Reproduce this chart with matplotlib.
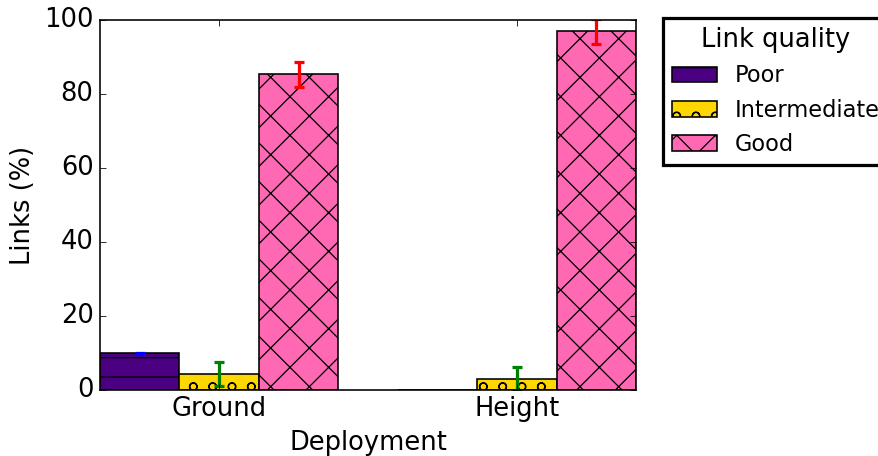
import matplotlib
matplotlib.use('Agg')
import matplotlib.pyplot as plt
import numpy as np

plt.style.use('classic')
plt.rcParams['font.family'] = 'DejaVu Sans'
plt.rcParams['hatch.color'] = 'black'
plt.rcParams['hatch.linewidth'] = 0.8

# data
deployments = ['Ground', 'Height']
qualities = ['Poor', 'Intermediate', 'Good']
poor = [9.9, 0.0]
poor_err = [0.2, 0.0]
intermediate = [4.4, 2.9]
intermediate_err = [3.3, 3.3]
good = [85.3, 96.9]
good_err = [3.4, 3.3]

bar_colors = ['#4B0082', '#FFD700', '#FF69B4']
err_colors = ['blue', 'green', 'red']
hatches = ['-', 'o', 'x']

DPI = 116
fig = plt.figure(figsize=(878 / DPI, 456 / DPI), dpi=DPI, facecolor='white')
ax = fig.add_axes([100 / 878, 1 - 390 / 456, 536 / 878, 370 / 456])

x = np.arange(len(deployments))
width = 0.8 / 3
series = [(poor, poor_err), (intermediate, intermediate_err), (good, good_err)]

for i, (vals, errs) in enumerate(series):
    pos = x + (i - 1) * width
    ax.bar(pos, vals, width, color=bar_colors[i], edgecolor='black',
           hatch=hatches[i], linewidth=1.0, label=qualities[i], align='center')
    # skip error bars for empty bars (none drawn in the original)
    keep = np.array(vals) > 0
    ax.errorbar(pos[keep], np.array(vals)[keep], yerr=np.array(errs)[keep],
                fmt='none', ecolor=err_colors[i], elinewidth=2, capsize=3, capthick=2)

ax.set_xlim(-0.4, 1.4)
ax.set_ylim(0, 100)
ax.set_xticks(x)
ax.set_xticklabels(deployments, fontsize=16)
ax.tick_params(axis='y', labelsize=16)
ax.set_xlabel('Deployment', fontsize=16)
ax.set_ylabel('Links (%)', fontsize=16)

leg = ax.legend(loc='upper left', bbox_to_anchor=(1.05, 1.005), borderaxespad=0,
                title='Link quality', fontsize=14)
leg.get_title().set_fontsize(16)
leg.get_frame().set_linewidth(2)

fig.savefig('out.png', dpi=DPI, facecolor='white')
